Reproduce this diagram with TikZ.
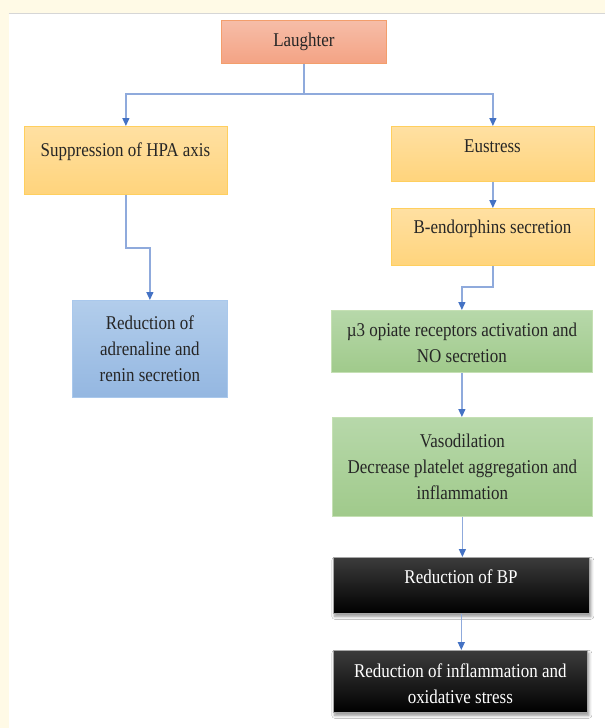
\documentclass[tikz,border=0pt]{standalone}
\usepackage{fontspec}
\setmainfont{Liberation Serif}[FakeStretch=0.87]
\usetikzlibrary{arrows.meta,shadows.blur,calc}
\definecolor{cream}{HTML}{FFFAE6}
\definecolor{topline}{HTML}{D6D6D6}
\definecolor{salT}{HTML}{F6BDA8}
\definecolor{salB}{HTML}{F4A384}
\definecolor{salD}{HTML}{F39E6C}
\definecolor{yelT}{HTML}{FFE0A2}
\definecolor{yelB}{HTML}{FFD47C}
\definecolor{yelD}{HTML}{FFCF5E}
\definecolor{bluT}{HTML}{B2CDEB}
\definecolor{bluB}{HTML}{94B7E1}
\definecolor{bluD}{HTML}{A9C8EC}
\definecolor{grnT}{HTML}{B7D8AA}
\definecolor{grnB}{HTML}{A0CA8B}
\definecolor{grnD}{HTML}{C5E0B4}
\definecolor{blkT}{HTML}{3C3C3C}
\definecolor{blkD}{HTML}{A6A6A6}
\definecolor{lineblue}{HTML}{8FAADC}
\definecolor{tipblue}{HTML}{4472C4}
\definecolor{textc}{HTML}{262626}
\begin{document}
\begin{tikzpicture}[x=1pt,y=-1pt,
  boxbase/.style={rectangle, inner sep=0pt, anchor=north west, line width=0.8pt},
  salbox/.style={boxbase, draw=salD, top color=salT, bottom color=salB},
  yelbox/.style={boxbase, draw=yelD, top color=yelT, bottom color=yelB},
  blubox/.style={boxbase, draw=bluD, top color=bluT, bottom color=bluB},
  grnbox/.style={boxbase, draw=grnD, top color=grnT, bottom color=grnB},
  blkbox/.style={boxbase, draw=blkD, line width=0.6pt, top color=blkT, middle color=black, bottom color=black,
     blur shadow={shadow xshift=1.5pt, shadow yshift=-3pt, shadow blur steps=6, shadow blur radius=3pt, shadow opacity=45}},
  txt/.style={font=\fontsize{19.5pt}{26pt}\selectfont, text=textc, align=center, inner sep=0pt},
  wtxt/.style={txt, text=white},
  conn/.style={draw=lineblue, line width=1.3pt, -{Triangle[length=8pt,width=7pt,color=tipblue]}},
  connl/.style={draw=lineblue, line width=1.3pt}
]
\useasboundingbox (0,0) rectangle (605,728);
\fill[white] (0,0) rectangle (605,728);
\fill[cream] (0,0) rectangle (605,13);
\fill[cream] (0,0) rectangle (9,728);
\draw[topline, line width=1pt] (8.5,13.5) -- (605,13.5);

% boxes
\node[salbox, minimum width=165pt, minimum height=43pt] (lau) at (221,20) {};
\node[txt] (laut) at (lau.center) {Laughter};

\node[yelbox, minimum width=203pt, minimum height=68pt] (sup) at (24,126) {};
\node[txt] (supt) at (125.5,152) {Suppression of HPA axis};

\node[yelbox, minimum width=203pt, minimum height=55pt] (eus) at (391,126) {};
\node[txt] (eust) at (492.5,146) {Eustress};

\node[yelbox, minimum width=203pt, minimum height=57pt] (end) at (391,208) {};
\node[txt] (endt) at (492.5,229) {B-endorphins secretion};

\node[blubox, minimum width=155pt, minimum height=97pt] (blu) at (72,300) {};
\node[txt] (blut) at (blu.center) {Reduction of\\adrenaline and\\renin secretion};

\node[grnbox, minimum width=261pt, minimum height=62pt] (mu) at (331,310) {};
\node[txt] (mut) at ($(mu.center)+(0,1)$) {µ3 opiate receptors activation and\\NO secretion};

\node[grnbox, minimum width=260pt, minimum height=99pt] (vas) at (332,417) {};
\node[txt] (vast) at (vas.center) {Vasodilation\\Decrease platelet aggregation and\\inflammation};

\node[blkbox, minimum width=256pt, minimum height=56pt] (bp) at (333,557) {};
\node[wtxt] (bpt) at (461,577) {Reduction of BP};

\node[blkbox, minimum width=254pt, minimum height=62pt] (inf) at (333,650) {};
\node[wtxt] (inft) at ($(inf.center)+(0,2)$) {Reduction of inflammation and\\oxidative stress};

% connectors
\coordinate (j) at (lau.south |- 0,94);
\draw[connl] (lau.south) -- (j);
\draw[conn] (j) -| (sup.north);
\draw[conn] (j) -| (eus.north);

\coordinate (k) at (sup.south |- 0,248);
\draw[conn] (sup.south) -- (k) -| (blu.north);

\draw[conn] (eus.south) -- (end.north);

\coordinate (m) at (end.south |- 0,287);
\draw[conn] (end.south) -- (m) -| (mu.north);

\draw[conn] (mu.south) -- (mu.south |- vas.north);
\draw[conn] (vas.south) -- (vas.south |- bp.north);
\draw[conn] (bp.south) -- (bp.south |- inf.north);
\end{tikzpicture}
\end{document}
